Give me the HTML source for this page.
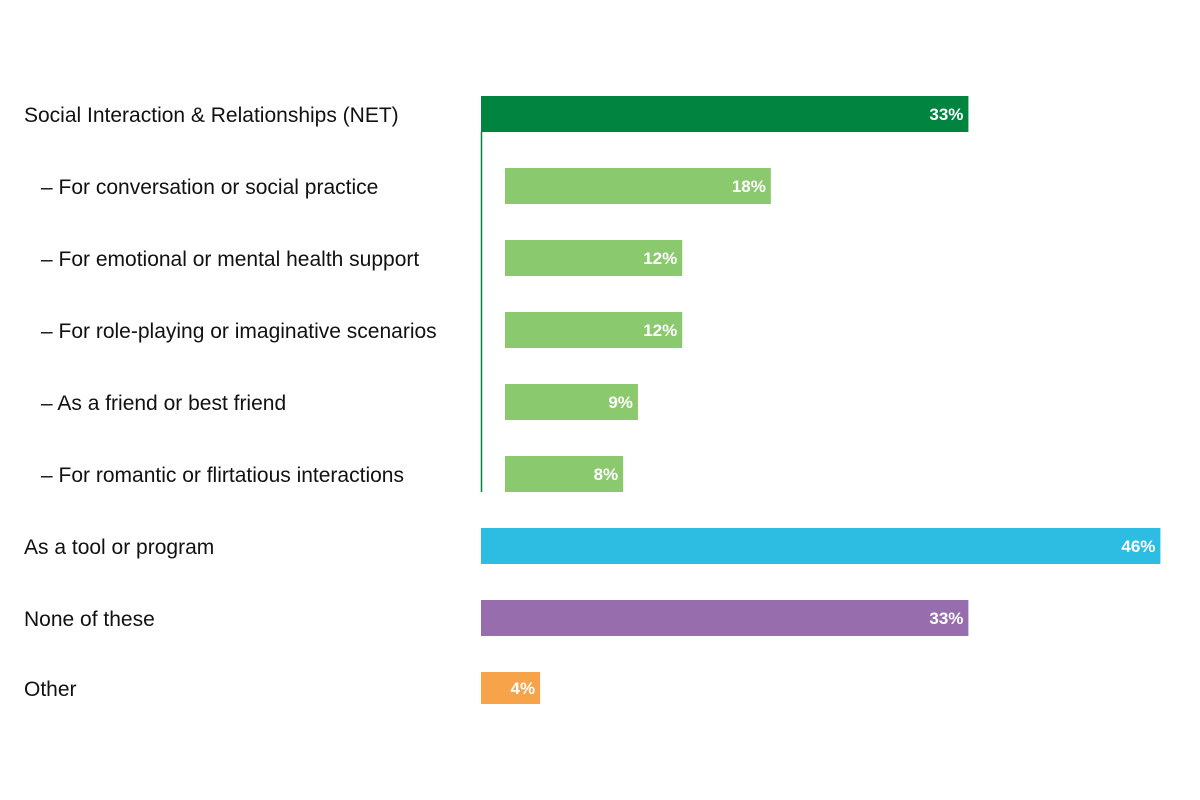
<!DOCTYPE html>
<html><head><meta charset="utf-8"><style>
html,body{margin:0;padding:0;background:#fff;}
svg{display:block;font-family:"Liberation Sans",sans-serif;}
</style></head><body>
<svg id="chart" width="1200" height="800" viewBox="0 0 1200 800" xmlns="http://www.w3.org/2000/svg"></svg>
<script>
const categories = ["Social Interaction & Relationships (NET)","– For conversation or social practice","– For emotional or mental health support","– For role-playing or imaginative scenarios","– As a friend or best friend","– For romantic or flirtatious interactions","As a tool or program","None of these","Other"];
const values = [33,18,12,12,9,8,46,33,4];
const isSub = [false,true,true,true,true,true,false,false,false];
const colors = ["#00843F","#8BC96E","#8BC96E","#8BC96E","#8BC96E","#8BC96E","#2DBDE3","#976DAE","#F7A34A"];

const NS="http://www.w3.org/2000/svg";
const svg=document.getElementById('chart');
const x0=481, subX0=505, pxPer=14.77;
const yTop=114, rowStep=72, barH=36;
const xScale=v=>v*pxPer;
const yScale=i=>yTop+i*rowStep-(i===8?2:0);

function mk(tag,attrs){const e=document.createElementNS(NS,tag);for(const k in attrs)e.setAttribute(k,attrs[k]);svg.appendChild(e);return e;}

categories.forEach((c,i)=>{
  const cy=yScale(i);
  const lbl=mk('text',{x:isSub[i]?41:24,y:cy+8,'font-size':21,fill:'#111'});
  lbl.textContent=c;
  
  
  const bx=isSub[i]?subX0:x0;
  const w=xScale(values[i]);
  const h=i===8?32:barH;
  const r=mk('rect',{x:bx,y:cy-h/2,width:w,height:h,fill:colors[i]});
  
  
  const t=mk('text',{x:bx+w-5,y:cy+6,'font-size':17,'font-weight':'bold',fill:'#fff','text-anchor':'end'});
  t.textContent=values[i]+'%';
  
  
});
const ln=mk('line',{x1:x0+0.5,x2:x0+0.5,y1:yScale(0)+barH/2,y2:yScale(5)+barH/2,stroke:'#00843F','stroke-width':1.5});


</script>
</body></html>
